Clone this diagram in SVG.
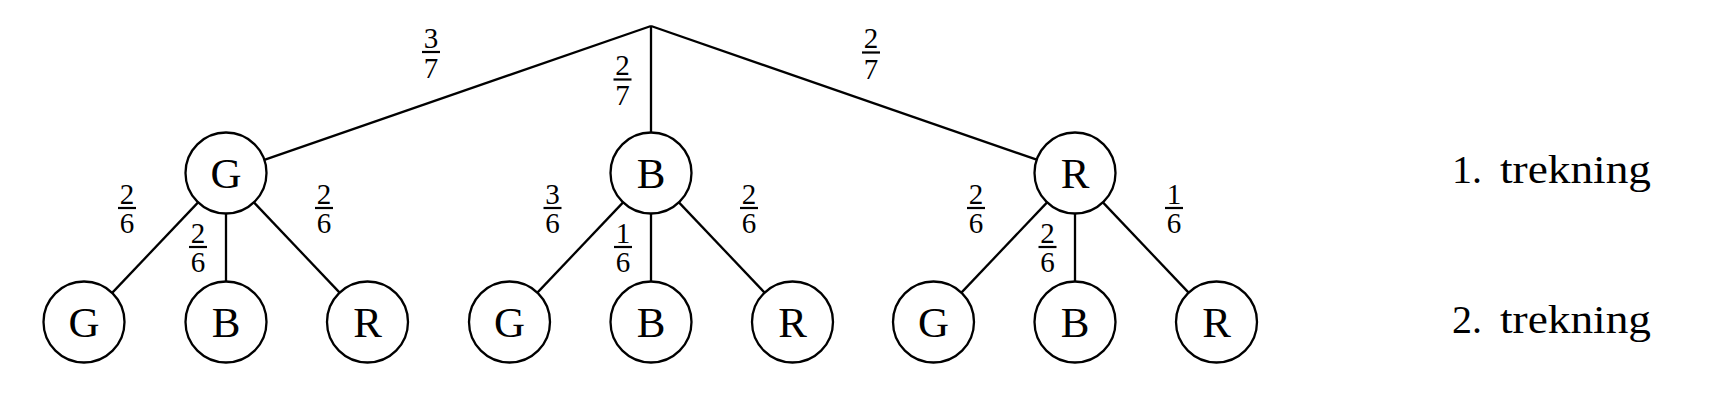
<svg xmlns="http://www.w3.org/2000/svg" width="1712" height="406" viewBox="0 0 1712 406">
<style>
  .node circle { fill: #fff; stroke: #000; stroke-width: 2.3; }
  .node text { font-family: "Liberation Serif", "DejaVu Serif", serif; font-size: 43px; text-anchor: middle; fill: #000; }
  .edge { stroke: #000; stroke-width: 2.3; fill: none; }
  .frac text { font-family: "Liberation Serif", "DejaVu Serif", serif; font-size: 29px; text-anchor: middle; fill: #000; }
  .frac line { stroke: #000; stroke-width: 2.2; }
  .level { font-family: "Liberation Serif", "DejaVu Serif", serif; font-size: 40px; fill: #000; }
</style>
<rect width="1712" height="406" fill="#fff"/>
<g id="connectors">
  <line class="edge" x1="651" y1="26" x2="264.3" y2="159.8"/>
  <line class="edge" x1="651" y1="26" x2="651" y2="132.5"/>
  <line class="edge" x1="651" y1="26" x2="1036.7" y2="159.7"/>
  <line class="edge" x1="198.1" y1="202.4" x2="112.4" y2="292.6"/>
  <line class="edge" x1="226" y1="213.5" x2="226" y2="281.5"/>
  <line class="edge" x1="253.9" y1="202.4" x2="339.6" y2="292.6"/>
  <line class="edge" x1="623.1" y1="202.4" x2="537.4" y2="292.6"/>
  <line class="edge" x1="651" y1="213.5" x2="651" y2="281.5"/>
  <line class="edge" x1="678.9" y1="202.4" x2="764.6" y2="292.6"/>
  <line class="edge" x1="1047.1" y1="202.4" x2="961.4" y2="292.6"/>
  <line class="edge" x1="1075" y1="213.5" x2="1075" y2="281.5"/>
  <line class="edge" x1="1102.9" y1="202.4" x2="1188.6" y2="292.6"/>
</g>
<g id="edge-labels">
  <g class="frac"><text x="431" y="47.5">3</text><line x1="422" y1="52" x2="440" y2="52"/><text x="431" y="78">7</text></g>
  <g class="frac"><text x="622.5" y="75">2</text><line x1="613.5" y1="79.5" x2="631.5" y2="79.5"/><text x="622.5" y="105">7</text></g>
  <g class="frac"><text x="871" y="48">2</text><line x1="862" y1="52.5" x2="880" y2="52.5"/><text x="871" y="78.5">7</text></g>

  <g class="frac"><text x="127" y="203.5">2</text><line x1="118" y1="208" x2="136" y2="208"/><text x="127" y="233">6</text></g>
  <g class="frac"><text x="198" y="242.5">2</text><line x1="189" y1="247" x2="207" y2="247"/><text x="198" y="272">6</text></g>
  <g class="frac"><text x="324" y="203.5">2</text><line x1="315" y1="208" x2="333" y2="208"/><text x="324" y="233">6</text></g>

  <g class="frac"><text x="552.5" y="203.5">3</text><line x1="543.5" y1="208" x2="561.5" y2="208"/><text x="552.5" y="233">6</text></g>
  <g class="frac"><text x="623" y="242.5">1</text><line x1="614" y1="247" x2="632" y2="247"/><text x="623" y="272">6</text></g>
  <g class="frac"><text x="749" y="203.5">2</text><line x1="740" y1="208" x2="758" y2="208"/><text x="749" y="233">6</text></g>

  <g class="frac"><text x="976" y="203.5">2</text><line x1="967" y1="208" x2="985" y2="208"/><text x="976" y="233">6</text></g>
  <g class="frac"><text x="1047.5" y="242.5">2</text><line x1="1038.5" y1="247" x2="1056.5" y2="247"/><text x="1047.5" y="272">6</text></g>
  <g class="frac"><text x="1174" y="203.5">1</text><line x1="1165" y1="208" x2="1183" y2="208"/><text x="1174" y="233">6</text></g>
</g>
<g id="node-G1" class="node"><circle cx="226" cy="173" r="40.5"/><text x="226" y="187.5">G</text></g>
<g id="node-B1" class="node"><circle cx="651" cy="173" r="40.5"/><text x="651" y="187.5">B</text></g>
<g id="node-R1" class="node"><circle cx="1075" cy="173" r="40.5"/><text x="1075" y="187.5">R</text></g>

<g id="node-GG" class="node"><circle cx="84" cy="322" r="40.5"/><text x="84" y="336.5">G</text></g>
<g id="node-GB" class="node"><circle cx="226" cy="322" r="40.5"/><text x="226" y="336.5">B</text></g>
<g id="node-GR" class="node"><circle cx="367.5" cy="322" r="40.5"/><text x="367.5" y="336.5">R</text></g>
<g id="node-BG" class="node"><circle cx="509.5" cy="322" r="40.5"/><text x="509.5" y="336.5">G</text></g>
<g id="node-BB" class="node"><circle cx="651" cy="322" r="40.5"/><text x="651" y="336.5">B</text></g>
<g id="node-BR" class="node"><circle cx="792.5" cy="322" r="40.5"/><text x="792.5" y="336.5">R</text></g>
<g id="node-RG" class="node"><circle cx="933.5" cy="322" r="40.5"/><text x="933.5" y="336.5">G</text></g>
<g id="node-RB" class="node"><circle cx="1075" cy="322" r="40.5"/><text x="1075" y="336.5">B</text></g>
<g id="node-RR" class="node"><circle cx="1216.5" cy="322" r="40.5"/><text x="1216.5" y="336.5">R</text></g>

<g id="level-labels">
  <text class="level" x="1452" y="183.3">1.<tspan x="1500" textLength="151" lengthAdjust="spacingAndGlyphs">trekning</tspan></text>
  <text class="level" x="1452" y="332.7">2.<tspan x="1500" textLength="151" lengthAdjust="spacingAndGlyphs">trekning</tspan></text>
</g>
</svg>
